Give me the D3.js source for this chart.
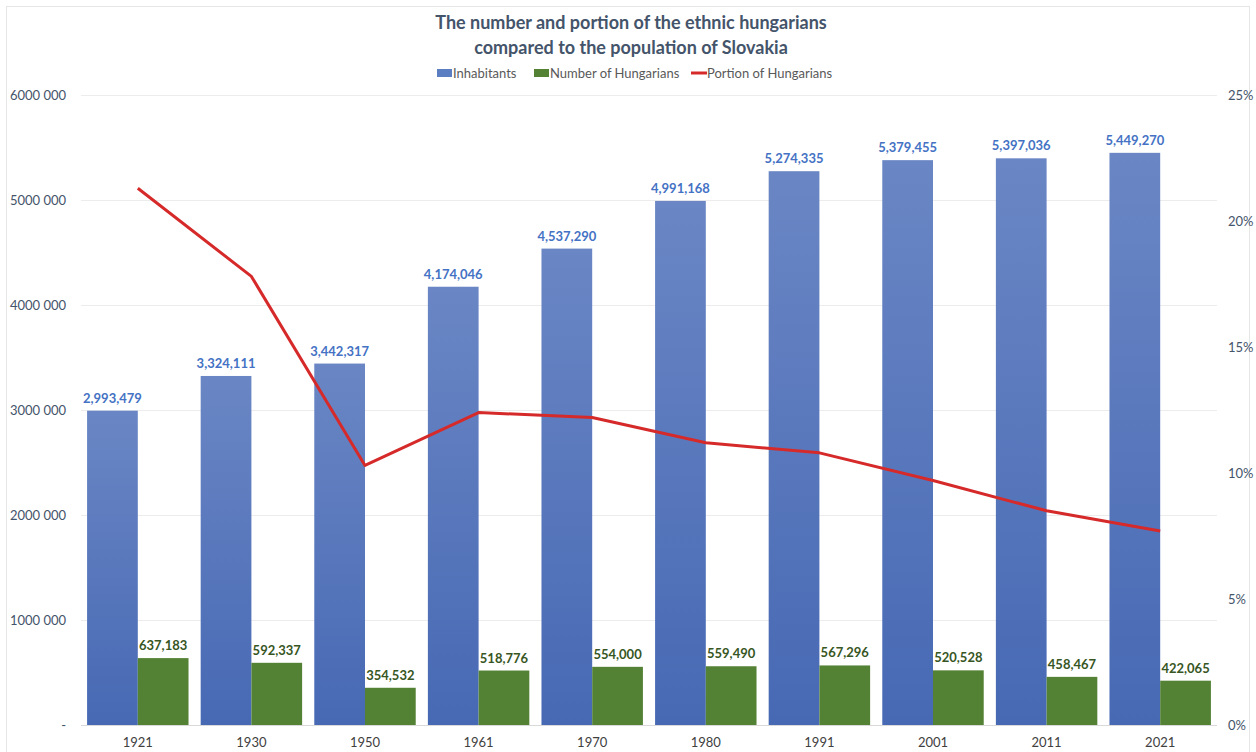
<!DOCTYPE html>
<html>
<head>
<meta charset="utf-8">
<script src="https://cdn.jsdelivr.net/npm/d3@7"></script>
<style>
  body { margin: 0; background: #fff; }
  svg { font-family: Lato, "Open Sans", sans-serif; }
</style>
</head>
<body>
<div id="chart"></div>
<script>
// census years and values
var years = ["1921", "1930", "1950", "1961", "1970", "1980", "1991", "2001", "2011", "2021"];
var inhabitants = [2993479, 3324111, 3442317, 4174046, 4537290, 4991168, 5274335, 5379455, 5397036, 5449270];
var hungarians = [637183, 592337, 354532, 518776, 554000, 559490, 567296, 520528, 458467, 422065];
var portion = [0.213, 0.178, 0.103, 0.124, 0.122, 0.112, 0.108, 0.097, 0.085, 0.077];
var leftTicks = [0, 1000000, 2000000, 3000000, 4000000, 5000000, 6000000];
var rightTicks = [0, 0.05, 0.10, 0.15, 0.20, 0.25];

var W = 1256, H = 752;
var margin = {top: 95, right: 39, bottom: 27, left: 81};
var width = W - margin.left - margin.right,
    height = H - margin.top - margin.bottom;

var svg = d3.select("#chart").append("svg")
  .attr("width", W)
  .attr("height", H);

var defs = svg.append("defs");
var grad = defs.append("linearGradient")
  .attr("id", "blueGrad")
  .attr("x1", 0).attr("y1", 0).attr("x2", 0).attr("y2", 1);
grad.append("stop").attr("offset", "0%").attr("stop-color", "#6a86c4");
grad.append("stop").attr("offset", "100%").attr("stop-color", "#4769b4");

// chart border
svg.append("rect")
  .attr("x", 6.5).attr("y", 6.5)
  .attr("width", W - 13).attr("height", H - 6)
  .attr("fill", "none")
  .attr("stroke", "#e6e6e6");

// title
var title = svg.append("text")
  .attr("text-anchor", "middle")
  .attr("fill", "#44546a")
  .attr("font-weight", 700)
  .attr("font-size", 18);
title.append("tspan").attr("x", 631).attr("y", 29).text("The number and portion of the ethnic hungarians");
title.append("tspan").attr("x", 631).attr("y", 54).text("compared to the population of Slovakia");

var g = svg.append("g")
  .attr("transform", "translate(" + margin.left + "," + margin.top + ")");

var x = d3.scaleBand()
  .domain(years)
  .range([0, width])
  .paddingInner(0.107)
  .paddingOuter(0.0535);

var y = d3.scaleLinear().domain([0, 6000000]).range([height, 0]);
var y2 = d3.scaleLinear().domain([0, 0.25]).range([height, 0]);

// gridlines
g.selectAll(".grid")
  .data(leftTicks)
  .enter().append("line")
  .attr("x1", 0).attr("x2", width)
  .attr("y1", function(d) { return Math.round(y(d)) + 0.5; })
  .attr("y2", function(d) { return Math.round(y(d)) + 0.5; })
  .attr("stroke", function(d) { return d === 0 ? "#d9d9d9" : "#ececec"; });

// left axis labels
g.selectAll(".ltick")
  .data(leftTicks)
  .enter().append("text")
  .attr("x", -15)
  .attr("y", function(d) { return y(d); })
  .attr("dy", "0.35em")
  .attr("text-anchor", "end")
  .attr("font-size", 13)
  .attr("fill", "#44546a")
  .text(function(d) {
    if (d === 0) return "-";
    var s = d3.format(",")(d).split(",");
    return s[0] + s[1] + " " + s[2];
  });

// right axis labels
g.selectAll(".rtick")
  .data(rightTicks)
  .enter().append("text")
  .attr("x", width + 11)
  .attr("y", function(d) { return y2(d); })
  .attr("dy", "0.35em")
  .attr("text-anchor", "start")
  .attr("font-size", 13)
  .attr("fill", "#44546a")
  .text(function(d) { return Math.round(d * 100) + "%"; });

// year labels
g.selectAll(".year")
  .data(years)
  .enter().append("text")
  .attr("x", function(d) { return x(d) + x.bandwidth() / 2; })
  .attr("y", height + 22)
  .attr("text-anchor", "middle")
  .attr("font-size", 13)
  .attr("fill", "#404040")
  .text(function(d) { return d; });

var bw = x.bandwidth() / 2;

// inhabitants bars
g.selectAll(".inh")
  .data(inhabitants)
  .enter().append("rect")
  .attr("x", function(d, i) { return x(years[i]); })
  .attr("y", function(d) { return y(d); })
  .attr("width", bw)
  .attr("height", function(d) { return height - y(d); })
  .attr("fill", "url(#blueGrad)");

// hungarians bars
g.selectAll(".hun")
  .data(hungarians)
  .enter().append("rect")
  .attr("x", function(d, i) { return x(years[i]) + bw; })
  .attr("y", function(d) { return y(d); })
  .attr("width", bw)
  .attr("height", function(d) { return height - y(d); })
  .attr("fill", "#548235");

// value labels
g.selectAll(".inhLab")
  .data(inhabitants)
  .enter().append("text")
  .attr("x", function(d, i) { return x(years[i]) + bw / 2; })
  .attr("y", function(d) { return y(d) - 8; })
  .attr("text-anchor", "middle")
  .attr("font-size", 13)
  .attr("font-weight", 700)
  .attr("fill", "#4472c4")
  .text(d3.format(","));

g.selectAll(".hunLab")
  .data(hungarians)
  .enter().append("text")
  .attr("x", function(d, i) { return x(years[i]) + bw * 1.5; })
  .attr("y", function(d) { return y(d) - 8; })
  .attr("text-anchor", "middle")
  .attr("font-size", 13)
  .attr("font-weight", 700)
  .attr("fill", "#375623")
  .text(d3.format(","));

// portion line
var line = d3.line()
  .x(function(d, i) { return x(years[i]) + bw; })
  .y(function(d) { return y2(d); });

g.append("path")
  .datum(portion)
  .attr("d", line)
  .attr("fill", "none")
  .attr("stroke", "#d62a2a")
  .attr("stroke-width", 3)
  .attr("stroke-linejoin", "round");

// legend
var legend = svg.append("g").attr("font-size", 13).attr("fill", "#595959");
var items = [
  {name: "Inhabitants", color: "#5b7dc2", type: "rect", x: 437},
  {name: "Number of Hungarians", color: "#548235", type: "rect", x: 534},
  {name: "Portion of Hungarians", color: "#d62a2a", type: "line", x: 691}
];
items.forEach(function(it) {
  if (it.type === "rect") {
    legend.append("rect").attr("x", it.x).attr("y", 69).attr("width", 15).attr("height", 8).attr("fill", it.color);
  } else {
    legend.append("line").attr("x1", it.x).attr("x2", it.x + 16).attr("y1", 73).attr("y2", 73)
      .attr("stroke", it.color).attr("stroke-width", 3);
  }
  legend.append("text").attr("x", it.x + 16).attr("y", 78).attr("fill", "#595959").text(it.name);
});
</script>
</body>
</html>
